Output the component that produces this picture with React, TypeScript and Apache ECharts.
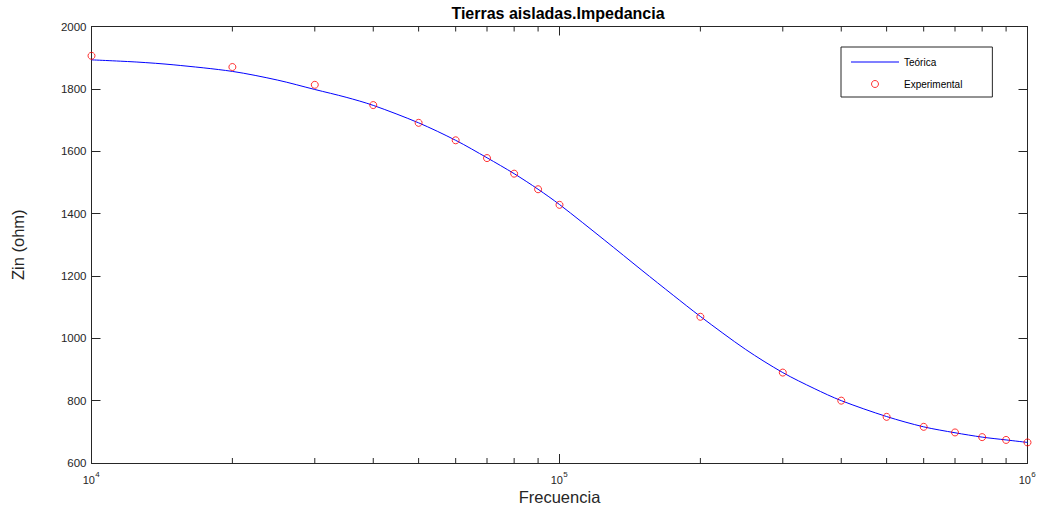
import React, { useEffect, useRef } from "react";
import * as echarts from "echarts";

const titleText = "Tierras aisladas.Impedancia";
const xName = "Frecuencia";
const yName = "Zin (ohm)";
const seriesNames = ["Teórica", "Experimental"];

// Theoretical curve
const freqTeo = [1e4, 1.25e4, 1.5e4, 2e4, 2.5e4, 3e4, 3.5e4, 4e4, 5e4, 6e4, 7e4, 8e4, 9e4, 1e5, 1.25e5, 1.5e5, 1.75e5, 2e5, 2.5e5, 3e5, 3.5e5, 4e5, 5e5, 6e5, 7e5, 8e5, 9e5, 1e6];
const zinTeo = [1893, 1886, 1877, 1856, 1828, 1798, 1773, 1747, 1691, 1635, 1579, 1528, 1478, 1429, 1314, 1218, 1138, 1070, 964, 890, 839, 800, 749, 716, 697, 683, 674, 666];

// Experimental points
const freqExp = [1e4, 2e4, 3e4, 4e4, 5e4, 6e4, 7e4, 8e4, 9e4, 1e5, 2e5, 3e5, 4e5, 5e5, 6e5, 7e5, 8e5, 9e5, 1e6];
const zinExp = [1906, 1870, 1813, 1748, 1691, 1635, 1578, 1528, 1478, 1428, 1069, 890, 800, 748, 716, 698, 683, 674, 666];

// Axes
const xMin = 1e4;
const xMax = 1e6;
const yMin = 600;
const yMax = 2000;
const yStep = 200;
const xTickValues = [1e4, 1e5, 1e6];
const xTickBase = "10";
const xTickExponents = ["4", "5", "6"];
const minorTicks = [2e4, 3e4, 4e4, 5e4, 6e4, 7e4, 8e4, 9e4, 2e5, 3e5, 4e5, 5e5, 6e5, 7e5, 8e5, 9e5];

const FONT = '"Liberation Sans", Arial, Helvetica, sans-serif';
const AX = "#262626";

export default function App() {
  const ref = useRef<HTMLDivElement>(null);
  useEffect(() => {
    if (!ref.current) return;
    const chart = echarts.init(ref.current, null, { renderer: "svg" });
    const axisCommonX = {
      type: "log" as const,
      logBase: 10,
      min: xMin,
      max: xMax,
      splitLine: { show: false },
      axisLine: { show: true, lineStyle: { color: AX, width: 1 } },
      axisTick: { show: true, inside: true, length: 9, lineStyle: { color: AX } },
    };
    const axisCommonY = {
      type: "value" as const,
      min: yMin,
      max: yMax,
      interval: yStep,
      splitLine: { show: false },
      axisLine: { show: true, lineStyle: { color: AX, width: 1 } },
      axisTick: { show: true, inside: true, length: 9, lineStyle: { color: AX } },
    };
    chart.setOption({
      animation: false,
      backgroundColor: "#ffffff",
      title: {
        text: titleText,
        left: 558,
        top: 5,
        padding: 0,
        textAlign: "center",
        textStyle: { fontFamily: FONT, fontSize: 16, fontWeight: "bold", color: "#000" },
      },
      grid: { left: 91.5, top: 26.5, right: 9.5, bottom: 46.5, containLabel: false },
      legend: {
        data: [
          { name: seriesNames[0], icon: "path://M0 0H48V1H0Z", itemStyle: { color: "#0000ff" } },
          {
            name: seriesNames[1],
            icon: "circle",
            itemStyle: { color: "rgba(255,255,255,0)", borderColor: "#ff0000", borderWidth: 1 },
          },
        ],
        orient: "vertical",
        left: 841,
        top: 47,
        itemWidth: 48,
        itemHeight: 7,
        itemGap: 10,
        padding: [9, 30, 7, 10],
        borderColor: AX,
        borderWidth: 1,
        backgroundColor: "#fff",
        selectedMode: false,
        textStyle: { fontFamily: FONT, fontSize: 10, color: "#000", lineHeight: 12 },
      },
      xAxis: [
        {
          ...axisCommonX,
          position: "bottom",
          name: xName,
          nameLocation: "middle",
          nameGap: 25,
          nameTextStyle: { fontFamily: FONT, fontSize: 16.5, color: AX },
          axisLabel: { show: false },
        },
        { ...axisCommonX, position: "top", axisLabel: { show: false } },
      ],
      yAxis: [
        {
          ...axisCommonY,
          position: "left",
          name: yName,
          nameLocation: "middle",
          nameGap: 65,
          nameTextStyle: { fontFamily: FONT, fontSize: 16.5, color: AX },
          axisLabel: {
            show: true,
            margin: 5,
            fontFamily: FONT,
            fontSize: 11.5,
            color: AX,
            formatter: (v: number) => String(v),
          },
        },
        { ...axisCommonY, position: "right", axisLabel: { show: false } },
      ],
      series: [
        {
          name: seriesNames[0],
          type: "line",
          xAxisIndex: 0,
          yAxisIndex: 0,
          data: freqTeo.map((f, i) => [f, zinTeo[i]]),
          symbol: "none",
          smooth: 0.3,
          lineStyle: { color: "#0000ff", width: 1 },
          itemStyle: { color: "#0000ff" },
          silent: true,
          z: 2,
        },
        {
          name: seriesNames[1],
          type: "scatter",
          xAxisIndex: 0,
          yAxisIndex: 0,
          data: freqExp.map((f, i) => [f, zinExp[i]]),
          symbol: "circle",
          symbolSize: 7,
          itemStyle: { color: "rgba(255,255,255,0)", borderColor: "#ff0000", borderWidth: 1 },
          silent: true,
          z: 3,
        },
        {
          type: "custom",
          xAxisIndex: 0,
          yAxisIndex: 0,
          silent: true,
          clip: false,
          z: 1,
          data: minorTicks.map((v) => [v, yMin]),
          renderItem: (params: any, api: any) => {
            const x = api.coord([api.value(0), api.value(1)])[0];
            const cs = params.coordSys;
            const yb = cs.y + cs.height;
            const yt = cs.y;
            const st = { stroke: AX, lineWidth: 1 };
            return {
              type: "group",
              children: [
                { type: "line", shape: { x1: x, y1: yb, x2: x, y2: yb - 5 }, style: st },
                { type: "line", shape: { x1: x, y1: yt, x2: x, y2: yt + 5 }, style: st },
              ],
            };
          },
        },
        {
          type: "custom",
          xAxisIndex: 0,
          yAxisIndex: 0,
          silent: true,
          clip: false,
          z: 1,
          data: xTickValues.map((v) => [v, yMin]),
          renderItem: (params: any, api: any) => {
            const x = api.coord([api.value(0), api.value(1)])[0];
            const cs = params.coordSys;
            const yb = cs.y + cs.height;
            return {
              type: "group",
              children: [
                {
                  type: "text",
                  style: {
                    text: xTickBase,
                    x: x - 2.7,
                    y: yb + 16.5,
                    align: "center",
                    verticalAlign: "middle",
                    fontSize: 11,
                    fontFamily: FONT,
                    fill: AX,
                  },
                },
                {
                  type: "text",
                  style: {
                    text: xTickExponents[params.dataIndex],
                    x: x + 3.8,
                    y: yb + 11.5,
                    align: "left",
                    verticalAlign: "middle",
                    fontSize: 8,
                    fontFamily: FONT,
                    fill: AX,
                  },
                },
              ],
            };
          },
        },
      ],
    });
    return () => chart.dispose();
  }, []);
  return (
    <div
      ref={ref}
      style={{ position: "fixed", left: 0, top: 0, width: 1037, height: 510, background: "#fff" }}
    />
  );
}
